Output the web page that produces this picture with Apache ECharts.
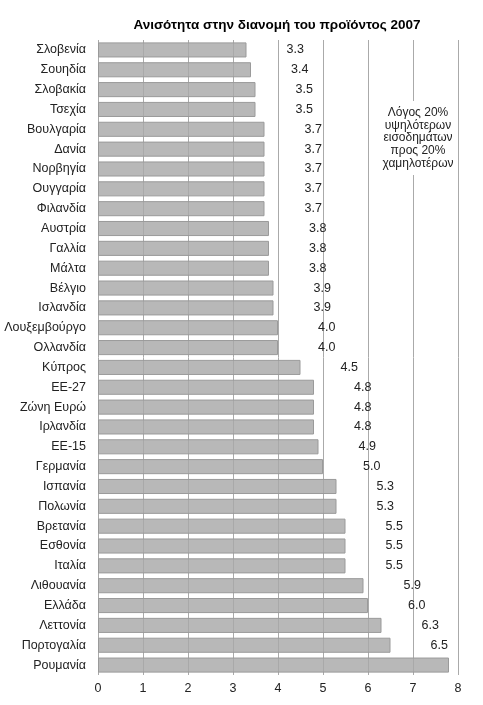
<!DOCTYPE html>
<html>
<head>
<meta charset="utf-8">
<script src="https://cdn.jsdelivr.net/npm/echarts@6/dist/echarts.min.js"></script>
<style>html,body{margin:0;padding:0;background:#fff;}#c{width:483px;height:705px;}</style>
</head>
<body>
<div id="c"></div>
<script>
const categories = ["Σλοβενία","Σουηδία","Σλοβακία","Τσεχία","Βουλγαρία","Δανία","Νορβηγία","Ουγγαρία","Φιλανδία","Αυστρία","Γαλλία","Μάλτα","Βέλγιο","Ισλανδία","Λουξεμβούργο","Ολλανδία","Κύπρος","ΕΕ-27","Ζώνη Ευρώ","Ιρλανδία","ΕΕ-15","Γερμανία","Ισπανία","Πολωνία","Βρετανία","Εσθονία","Ιταλία","Λιθουανία","Ελλάδα","Λεττονία","Πορτογαλία","Ρουμανία"];
const values = [3.3,3.4,3.5,3.5,3.7,3.7,3.7,3.7,3.7,3.8,3.8,3.8,3.9,3.9,4.0,4.0,4.5,4.8,4.8,4.8,4.9,5.0,5.3,5.3,5.5,5.5,5.5,5.9,6.0,6.3,6.5,7.8];
const hiddenLabels = ["Ρουμανία"];
const xTicks = [0,1,2,3,4,5,6,7,8];
const titleText = "Ανισότητα στην διανομή του προϊόντος 2007";
const noteText = "Λόγος 20%\nυψηλότερων\nεισοδημάτων\nπρος 20%\nχαμηλοτέρων";

const font = "'Liberation Sans', Arial, sans-serif";
const chart = echarts.init(document.getElementById('c'), null, {renderer:'canvas'});
chart.setOption({
  animation:false,
  backgroundColor:'#fff',
  title:[
    {text:titleText,left:272,textAlign:'center',top:13,textStyle:{fontFamily:font,fontSize:13.5,fontWeight:'bold',color:'#000'}},
    {text:noteText,left:415,textAlign:'center',top:101,padding:[5,3],backgroundColor:'#fff',
     textStyle:{fontFamily:font,fontSize:12,fontWeight:'normal',lineHeight:12.8,color:'#222'}}
  ],
  grid:{left:98,right:25,top:40,bottom:30,containLabel:false},
  xAxis:{type:'value',min:xTicks[0],max:xTicks[xTicks.length-1],interval:1,
    axisLine:{show:false},axisTick:{show:false},
    axisLabel:{fontFamily:font,fontSize:12.5,color:'#222',margin:7},
    splitLine:{show:true,lineStyle:{color:'#aaaaaa',width:1}}},
  yAxis:{type:'category',data:categories,inverse:true,
    axisLine:{show:false},axisTick:{show:false},
    axisLabel:{fontFamily:font,fontSize:12.5,color:'#222',margin:12}},
  series:[{type:'bar',barCategoryGap:'24%',
    data:values.map((v,i)=>hiddenLabels.includes(categories[i])?{value:v,label:{show:false}}:v),
    itemStyle:{color:'rgba(168,168,168,0.82)',borderColor:'#9a9a9a',borderWidth:1},
    label:{show:true,position:'right',distance:40,fontFamily:font,fontSize:12.5,color:'#222',
      formatter:p=>p.value.toFixed(1)}}]
});
</script>
</body>
</html>
